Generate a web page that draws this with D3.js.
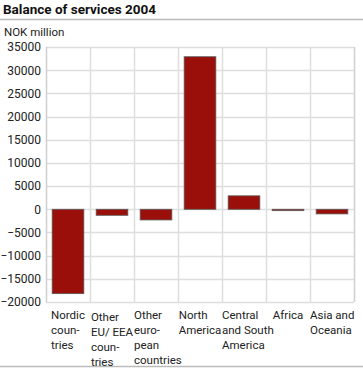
<!DOCTYPE html>
<meta charset="utf-8">
<script src="https://d3js.org/d3.v7.min.js"></script>
<style>
  body { margin: 0; background: #fff; }
  text { font-family: Roboto, sans-serif; fill: #222; }
</style>
<div id="my_dataviz"></div>
<script>

// data (NOK million)
var categories = ["Nordic countries", "Other EU/ EEA countries", "Other european countries",
  "North America", "Central and South America", "Africa", "Asia and Oceania"];
var labelLines = [
  ["Nordic", "coun-", "tries"],
  ["Other", "EU/ EEA", "coun-", "tries"],
  ["Other", "euro-", "pean", "countries"],
  ["North", "America"],
  ["Central", "and South", "America"],
  ["Africa"],
  ["Asia and", "Oceania"]
];
var values = [-18200, -1300, -2300, 32900, 2900, -300, -1000];
var yTicks = [-20000, -15000, -10000, -5000, 0, 5000, 10000, 15000, 20000, 25000, 30000, 35000];

var W = 363, H = 368;
var margin = {top: 47, right: 9, bottom: 66, left: 46},
    width = W - margin.left - margin.right,
    height = H - margin.top - margin.bottom;
var fs = "11.5px";

var svg = d3.select("#my_dataviz")
  .append("svg")
    .attr("width", W)
    .attr("height", H);

// title and rules
svg.append("text")
  .attr("x", 3).attr("y", 14)
  .attr("font-size", "13.5px")
  .attr("font-weight", "bold")
  .style("fill", "#111")
  .text("Balance of services 2004");
svg.append("line")
  .attr("x1", 0).attr("x2", W).attr("y1", 19.5).attr("y2", 19.5)
  .attr("stroke", "#bbb").attr("stroke-width", 1.5);
svg.append("line")
  .attr("x1", 0).attr("x2", W).attr("y1", 366.5).attr("y2", 366.5)
  .attr("stroke", "#bbb").attr("stroke-width", 1.5);
svg.append("text")
  .attr("x", 4).attr("y", 36)
  .attr("font-size", fs)
  .text("NOK million");

var g = svg.append("g")
  .attr("transform", "translate(" + margin.left + "," + margin.top + ")");

var x = d3.scaleBand()
  .domain(categories)
  .range([0, width])
  .padding(0);

var y = d3.scaleLinear()
  .domain([-20000, 35000])
  .range([height, 0]);

// horizontal grid
g.append("g")
  .selectAll("line")
  .data(yTicks)
  .enter()
  .append("line")
    .attr("x1", 0).attr("x2", width)
    .attr("y1", function(d) { return Math.round(y(d)) + 0.5; })
    .attr("y2", function(d) { return Math.round(y(d)) + 0.5; })
    .attr("stroke", "#dedede")
    .attr("stroke-width", 1.5);

// vertical grid at category boundaries
var bounds = categories.map(function(c) { return x(c); }).concat([width]);
g.append("g")
  .selectAll("line")
  .data(bounds)
  .enter()
  .append("line")
    .attr("x1", function(d) { return Math.round(d) + 0.5; })
    .attr("x2", function(d) { return Math.round(d) + 0.5; })
    .attr("y1", 0).attr("y2", height)
    .attr("stroke", function(d, i) { return (i == 0 || i == bounds.length - 1) ? "#cfcfcf" : "#dedede"; })
    .attr("stroke-width", 1.5);

// y axis labels
g.append("g")
  .call(d3.axisLeft(y).tickValues(yTicks).tickSize(0).tickPadding(5).tickFormat(d3.format("d")))
  .call(function(a) { a.select(".domain").remove(); })
  .selectAll("text")
    .attr("font-size", "12px")
    .attr("font-family", "Roboto, sans-serif")
    .style("fill", "#222");

// bars
var barW = x.bandwidth() * 0.72;
g.append("g")
  .selectAll("rect")
  .data(values)
  .enter()
  .append("rect")
    .attr("x", function(d, i) { return x(categories[i]) + (x.bandwidth() - barW) / 2; })
    .attr("y", function(d) { return y(Math.max(0, d)); })
    .attr("width", barW)
    .attr("height", function(d) { return Math.max(1, Math.abs(y(d) - y(0))); })
    .attr("fill", "#9a0f09")
    .attr("stroke", "#5a5a5a")
    .attr("stroke-width", 0.8);

// category labels, left-aligned lines in a block centred on the band
var lab = g.append("g")
  .selectAll("text")
  .data(labelLines)
  .enter()
  .append("text")
    .attr("font-size", fs)
    .attr("y", function(d) { return height + (d.length == 4 && d[1].length > 5 ? 19 : 17); });
lab.each(function(lines) {
  var t = d3.select(this);
  lines.forEach(function(s, j) {
    t.append("tspan").attr("dy", j == 0 ? 0 : 15).text(s);
  });
});
lab.each(function(lines, i) {
  var t = d3.select(this);
  var maxW = 0;
  t.selectAll("tspan").each(function() { maxW = Math.max(maxW, this.getComputedTextLength()); });
  var x0 = x(categories[i]) + x.bandwidth() / 2 - Math.min(maxW, x.bandwidth()) / 2;
  t.selectAll("tspan").attr("x", x0);
});

</script>
